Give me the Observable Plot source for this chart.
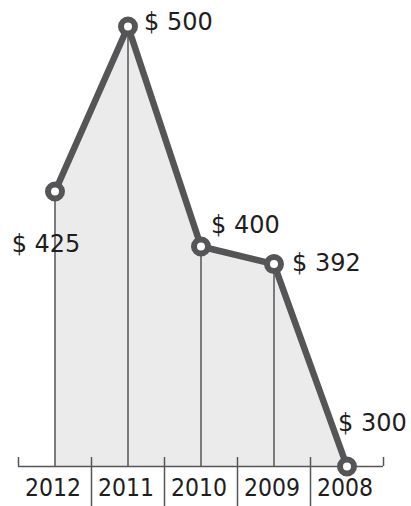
<!DOCTYPE html>
<html>
<head>
<meta charset="utf-8">
<script src="https://cdn.jsdelivr.net/npm/d3@7"></script>
<script src="https://cdn.jsdelivr.net/npm/@observablehq/plot@0.6"></script>
<style>
  html, body { margin: 0; padding: 0; background: #fff; }
  #chart svg { display: block; }
</style>
</head>
<body>
<div id="chart"></div>
<script>
// Data
const years = [2012, 2011, 2010, 2009, 2008];
const prices = [425, 500, 400, 392, 300];
const data = years.map((year, i) => ({year, value: prices[i]}));

// Band boundaries between years (half a year either side)
const boundaries = years.map(y => y + 0.5).concat([years[years.length - 1] - 0.5]);
const innerBoundaries = boundaries.slice(1, -1);
const outerBoundaries = [boundaries[0], boundaries[boundaries.length - 1]];
const yMin = d3.min(prices);
const yMax = d3.max(prices);

const lineColor = "#555557";
const labelFont = "'DejaVu Sans', sans-serif";
const yearFont = "'Liberation Sans Narrow', 'DejaVu Sans Condensed', 'Liberation Sans', sans-serif";

const label = (year, opts) => Plot.text(data, {
  filter: d => d.year === year,
  x: "year", y: "value",
  text: d => `$ ${d.value}`,
  fontSize: 24, fill: "#1e1e1e",
  fontFamily: labelFont,
  ...opts
});

const chart = Plot.plot({
  width: 411,
  height: 506,
  marginLeft: 18,
  marginRight: 28,
  marginTop: 26,
  marginBottom: 40,
  x: {type: "linear", domain: [boundaries[0], boundaries[boundaries.length - 1]], axis: null},
  y: {domain: [yMin, yMax], axis: null},
  marks: [
    Plot.areaY(data, {x: "year", y1: yMin, y2: "value", fill: "#ebebeb"}),
    Plot.ruleX(data, {x: "year", y1: yMin, y2: "value", stroke: lineColor, strokeWidth: 1.5}),
    Plot.ruleY([yMin], {stroke: lineColor, strokeWidth: 1.5}),
    Plot.ruleX(outerBoundaries, {y1: yMin, y2: yMin, insetTop: -9, insetBottom: 0, stroke: lineColor, strokeWidth: 1.5}),
    Plot.ruleX(innerBoundaries, {y1: yMin, y2: yMin, insetTop: -9, insetBottom: -40, stroke: lineColor, strokeWidth: 1.5}),
    Plot.line(data, {x: "year", y: "value", stroke: lineColor, strokeWidth: 6.5, strokeLinejoin: "round"}),
    Plot.dot(data, {x: "year", y: "value", r: 7, fill: "white", stroke: lineColor, strokeWidth: 6}),
    label(2011, {textAnchor: "start", dx: 16, dy: -4}),
    label(2012, {textAnchor: "middle", dx: -9, dy: 53}),
    label(2010, {textAnchor: "start", dx: 10, dy: -21}),
    label(2009, {textAnchor: "start", dx: 18, dy: -1}),
    label(2008, {textAnchor: "start", dx: -9, dy: -43}),
    Plot.text(years, {x: d => d, text: d => String(d), frameAnchor: "bottom", dy: 29, dx: -2,
      fontSize: 24.5, letterSpacing: -1.5, fill: "#1e1e1e", fontFamily: yearFont})
  ]
});
document.getElementById("chart").append(chart);
</script>
</body>
</html>
